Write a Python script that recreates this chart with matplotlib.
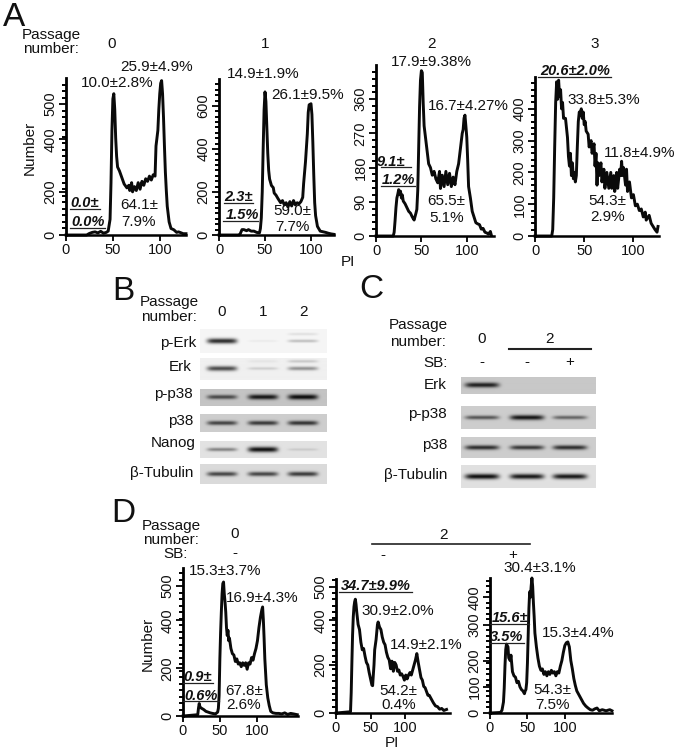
#!/usr/bin/env python
# coding: utf-8
"""Cell cycle histograms and western blots, four panels"""

import numpy as np
import matplotlib
matplotlib.use("Agg")
import matplotlib.pyplot as plt
from matplotlib.lines import Line2D

plt.rcParams['font.family'] = ['Liberation Sans', 'DejaVu Sans']

W, H = 678, 751

# histogram data, PI on x and number on y
a0_x = [0, 22, 25, 28, 31, 34, 37, 40, 43, 45, 47, 48, 49, 50, 51, 52, 53, 54, 55, 57, 60, 62, 65, 67, 68, 70, 71, 73, 75, 77, 79, 81, 83, 85, 87, 89, 91, 93, 95, 96, 98, 99, 100, 101, 102, 103, 104, 105, 106, 107, 108, 110, 112, 115, 118, 120, 123, 125, 128]
a0_y = [0, 0, 6, 10, 12, 8, 14, 7, 10, 15, 60, 200, 400, 520, 540, 480, 370, 300, 260, 245, 215, 195, 180, 190, 170, 200, 165, 185, 170, 200, 175, 205, 190, 215, 205, 225, 210, 230, 225, 340, 400, 480, 540, 580, 590, 540, 450, 340, 240, 170, 110, 50, 25, 20, 10, 12, 8, 5, 5]
a1_x = [0, 22, 23, 25, 27, 30, 32, 35, 38, 41, 44, 45, 46, 47, 48, 49, 50, 51, 52, 53, 54, 55, 57, 59, 60, 62, 64, 67, 69, 71, 73, 75, 77, 79, 81, 83, 85, 87, 89, 91, 92, 94, 96, 97, 98, 100, 101, 102, 103, 104, 105, 107, 110, 113, 116, 119, 122, 125]
a1_y = [0, 0, 5, 25, 25, 20, 25, 18, 18, 12, 10, 30, 80, 200, 400, 580, 665, 620, 500, 380, 300, 260, 230, 220, 195, 185, 170, 150, 160, 140, 150, 130, 155, 135, 160, 140, 150, 145, 155, 175, 240, 340, 470, 570, 605, 610, 560, 430, 280, 150, 90, 40, 18, 15, 12, 8, 5, 3]
a2_x = [0, 19, 20, 21, 22, 23, 24, 25, 26, 27, 28, 29, 30, 32, 34, 36, 38, 40, 42, 44, 45, 46, 47, 48, 49, 50, 51, 52, 53, 55, 57, 58, 60, 62, 64, 66, 68, 70, 71, 73, 75, 77, 79, 81, 83, 85, 87, 89, 91, 93, 95, 96, 97, 98, 99, 100, 101, 102, 104, 106, 108, 110, 112, 114, 116, 118, 120, 122, 124, 126, 127]
a2_y = [0, 0, 10, 40, 75, 100, 110, 122, 110, 118, 100, 108, 92, 85, 75, 65, 60, 50, 42, 60, 70, 120, 230, 340, 410, 435, 430, 350, 290, 250, 210, 190, 180, 160, 170, 150, 140, 170, 125, 160, 130, 170, 135, 165, 130, 155, 135, 170, 190, 230, 270, 280, 310, 318, 290, 260, 200, 130, 100, 65, 50, 35, 32, 30, 18, 20, 10, 8, 5, 12, 3]
a3_x = [0, 17, 18, 19, 20, 21, 22, 23, 24, 25, 26, 27, 28, 29, 31, 32, 33, 34, 35, 36, 37, 38, 39, 40, 41, 42, 43, 44, 45, 46, 47, 48, 49, 50, 51, 52, 54, 55, 57, 58, 60, 61, 62, 63, 64, 65, 67, 68, 70, 71, 73, 75, 77, 78, 80, 81, 83, 84, 86, 87, 88, 89, 90, 92, 93, 94, 96, 98, 100, 102, 104, 106, 108, 110, 112, 113, 116, 118, 120, 122, 124, 125]
a3_y = [0, 0, 20, 120, 280, 420, 485, 430, 490, 440, 460, 400, 420, 370, 370, 340, 310, 250, 220, 260, 190, 230, 180, 200, 170, 190, 280, 360, 390, 380, 400, 370, 390, 350, 360, 330, 320, 280, 300, 260, 290, 220, 260, 160, 230, 190, 230, 170, 210, 150, 200, 150, 200, 150, 190, 140, 200, 150, 210, 190, 235, 190, 215, 160, 210, 140, 170, 120, 130, 95, 100, 80, 85, 60, 75, 50, 65, 40, 30, 20, 12, 30]
d0_x = [0, 20, 21, 22, 23, 25, 28, 31, 34, 37, 40, 44, 47, 48, 49, 50, 51, 52, 53, 54, 55, 56, 57, 58, 59, 60, 61, 62, 63, 65, 67, 69, 71, 73, 75, 77, 79, 81, 83, 85, 87, 89, 91, 93, 95, 97, 99, 101, 103, 105, 107, 108, 109, 110, 111, 112, 113, 115, 117, 119, 122, 126, 130, 134, 138, 142, 146, 150, 155]
d0_y = [0, 5, 30, 48, 35, 30, 25, 18, 15, 12, 10, 8, 15, 30, 80, 220, 320, 400, 470, 510, 516, 470, 440, 400, 340, 310, 330, 290, 300, 260, 240, 235, 210, 220, 200, 205, 190, 205, 195, 205, 180, 205, 200, 225, 215, 240, 260, 290, 340, 380, 410, 420, 370, 300, 220, 170, 120, 70, 40, 18, 12, 10, 10, 8, 12, 6, 10, 8, 5]
d1_x = [0, 21, 22, 23, 24, 25, 26, 27, 28, 29, 30, 32, 34, 36, 38, 40, 42, 44, 46, 48, 50, 52, 53, 54, 55, 56, 58, 60, 61, 63, 65, 67, 69, 71, 73, 75, 77, 79, 81, 83, 85, 87, 89, 91, 93, 95, 97, 99, 101, 103, 105, 107, 109, 111, 113, 115, 117, 119, 121, 123, 125, 127, 129, 131, 133, 135, 137, 139, 141, 144, 147, 150, 153, 156, 160]
d1_y = [0, 5, 80, 200, 310, 380, 420, 440, 450, 430, 400, 350, 330, 280, 250, 255, 225, 200, 190, 160, 135, 110, 108, 150, 190, 250, 290, 350, 360, 340, 330, 300, 280, 270, 240, 220, 210, 175, 205, 165, 200, 190, 165, 170, 150, 155, 145, 130, 150, 135, 150, 160, 150, 170, 190, 210, 235, 200, 170, 140, 130, 105, 100, 85, 70, 70, 60, 50, 40, 28, 25, 15, 18, 10, 14]
d2_x = [0, 14, 16, 18, 19, 20, 21, 22, 24, 25, 27, 28, 30, 32, 34, 36, 38, 40, 42, 44, 46, 47, 48, 49, 50, 51, 52, 53, 54, 55, 56, 57, 58, 59, 60, 62, 64, 66, 68, 70, 72, 74, 76, 78, 80, 82, 84, 86, 88, 90, 92, 94, 96, 98, 100, 102, 104, 106, 108, 110, 112, 114, 116, 118, 120, 122, 125, 128, 131, 134, 137, 140, 143, 146, 150, 155, 160, 163]
d2_y = [0, 2, 10, 40, 90, 170, 230, 250, 240, 200, 190, 210, 150, 135, 130, 110, 115, 95, 85, 80, 70, 80, 85, 110, 180, 280, 380, 440, 420, 460, 490, 460, 400, 350, 290, 240, 200, 170, 155, 160, 140, 150, 135, 150, 140, 155, 145, 150, 135, 150, 145, 170, 190, 220, 245, 255, 258, 240, 190, 160, 125, 100, 80, 70, 60, 50, 35, 25, 18, 12, 10, 15, 18, 8, 12, 8, 12, 8]

# blot band darkness per lane, 0 to 255
b_names = ["p-Erk", "Erk", "p-p38", "p38", "Nanog", "β-Tubulin"]
b_bg = [246, 240, 196, 205, 226, 218]
b_main = [[200, 12, 55], [165, 35, 95], [125, 175, 185], [140, 150, 155], [95, 210, 25], [150, 150, 160]]
b_upper = [[0, 0, 22], [0, 12, 40], [0, 0, 0], [0, 0, 0], [0, 0, 0], [0, 0, 0]]
c_names = ["Erk", "p-p38", "p38", "β-Tubulin"]
c_bg = [200, 205, 205, 225]
c_main = [[170, 0, 0], [120, 185, 105], [160, 150, 160], [210, 200, 200]]

fig = plt.figure(figsize=(W / 100, H / 100), dpi=100)


def txt(x, y, s, size=11, ha='center', **kw):
    fig.text(x / W, 1 - y / H, s, fontsize=size, ha=ha, va='center', color='#111111', **kw)


def rule(x0, x1, y, lw=0.9):
    fig.add_artist(Line2D([x0 / W, x1 / W], [1 - y / H, 1 - y / H], color='#222222', lw=lw))


def gate(x, y, s, x0, x1, uy):
    txt(x, y, s, size=10.5, weight='bold', style='italic')
    rule(x0, x1, uy)


def hist(x0, x1, y0, y1, xmax, ymax, xs, ys, yticks, ylabels, yminor):
    """Histogram axes placed by pixel box, y0 is the bottom"""
    ax = fig.add_axes([x0 / W, 1 - y0 / H, (x1 - x0) / W, (y0 - y1) / H])
    ax.plot(xs, ys, color='#0a0a0a', lw=2.1, solid_joinstyle='round', clip_on=False)
    ax.set_xlim(0, xmax)
    ax.set_ylim(0, ymax)
    for side in ['top', 'right']:
        ax.spines[side].set_visible(False)
    ax.spines['left'].set_linewidth(2.0)
    ax.spines['bottom'].set_linewidth(1.8)
    ax.set_xticks([0, 50, 100])
    ax.set_yticks(yticks, ylabels)
    ax.set_yticks(yminor, minor=True)
    ax.tick_params(axis='x', length=4, width=1.4, labelsize=10.5, pad=1.5, colors='#111111')
    ax.tick_params(axis='y', length=5, width=1.4, labelsize=10.5, pad=1, colors='#111111')
    ax.tick_params(axis='y', which='minor', length=3, width=1.4)
    for lab in ax.get_yticklabels():
        lab.set_rotation(90)
        lab.set_va('center')
    ax.patch.set_alpha(0)
    return ax


def blot(x0, x1, y0, y1, bg, main, upper, lanes, half):
    """One blot strip, bands built from the darkness values of its lanes"""
    ax = fig.add_axes([x0 / W, 1 - y1 / H, (x1 - x0) / W, (y1 - y0) / H])
    nx, ny = 3 * (x1 - x0), 3 * (y1 - y0)
    xx, yy = np.meshgrid(np.linspace(x0, x1, nx), np.linspace(y0, y1, ny))
    img = np.full((ny, nx), float(bg))
    mid = 0.5 * (y0 + y1)
    for lane, dark, up in zip(lanes, main, upper):
        shape = np.exp(-((xx - lane) / half) ** 6)
        img -= dark * shape * np.exp(-((yy - mid) / (1.1 + dark / 130)) ** 2)
        img -= up * shape * np.exp(-((yy - mid + 7) / 1.4) ** 2)
    ax.imshow(np.clip(img, 0, 255), cmap='gray', vmin=0, vmax=255, aspect='auto',
              interpolation='bilinear')
    ax.axis('off')


# Panel A
txt(14, 17, "A", size=24)
txt(51, 35, "Passage")
txt(51, 49, "number:")
for x, s in zip([112, 265, 432, 595], ["0", "1", "2", "3"]):
    txt(x, 44, s)

hist(66, 186, 235, 78, 128, 600, a0_x, a0_y, [0, 164, 366, 500], ["0", "200", "400", "500"], np.arange(0, 600, 25))
hist(219, 334, 235, 79, 125, 725, a1_x, a1_y, [0, 200, 400, 600], ["0", "200", "400", "600"], np.arange(0, 725, 25))
hist(376, 494, 236, 65, 130, 450, a2_x, a2_y, [0, 90, 180, 270, 360], ["0", "90", "180", "270", "360"], np.arange(0, 450, 18))
hist(535, 659, 236, 77, 126, 500, a3_x, a3_y, [0, 100, 200, 300, 400], ["0", "100", "200", "300", "400"], np.arange(0, 500, 20))

txt(30, 148, "Number", rotation=90)
txt(348, 262, "PI")

txt(157, 67, "25.9±4.9%")
txt(117, 83, "10.0±2.8%")
txt(263, 74, "14.9±1.9%")
txt(308, 95, "26.1±9.5%")
txt(139, 205, "64.1±")
txt(139, 222, "7.9%")
txt(292, 211, "59.0±")
txt(292, 227, "7.7%")
gate(85, 203, "0.0±", 70, 100, 209)
gate(88, 222, "0.0%", 70, 105, 228)
gate(238, 197, "2.3±", 224, 253, 203)
gate(242, 215, "1.5%", 223, 258, 221)

txt(431, 62, "17.9±9.38%")
txt(468, 106, "16.7±4.27%")
txt(446, 201, "65.5±")
txt(447, 218, "5.1%")
gate(391, 162, "9.1±", 381, 411, 167)
gate(398, 180, "1.2%", 381, 415, 186)

gate(575, 71, "20.6±2.0%", 538, 611, 77)
txt(604, 100, "33.8±5.3%")
txt(640, 153, "11.8±4.9%")
txt(607, 201, "54.3±")
txt(608, 217, "2.9%")

# Panel B
txt(123, 291, "B", size=24)
txt(169, 302, "Passage")
txt(169, 317, "number:")
b_lanes = [222, 263, 303]
for x, s in zip(b_lanes, ["0", "1", "2"]):
    txt(x, 312, s)
b_rows = [(329, 353), (358, 380), (389, 406), (414, 432), (441, 458), (464, 484)]
for row, bg, main, upper in zip(b_rows, b_bg, b_main, b_upper):
    blot(200, 327, row[0], row[1], bg, main, upper, b_lanes, 15)
for y, x, s in zip([343, 367, 394, 421, 443, 473], [196, 192, 193, 193, 196, 193], b_names):
    txt(x, y, s, ha='right')

# Panel C
txt(371, 290, "C", size=24)
txt(418, 325, "Passage")
txt(418, 342, "number:")
c_lanes = [482, 527, 570]
txt(482, 339, "0")
txt(550, 339, "2")
rule(509, 591, 349, lw=1.5)
txt(448, 363, "SB:", ha='right')
for x, s in zip(c_lanes, ["-", "-", "+"]):
    txt(x, 362, s)
c_rows = [(377, 394), (406, 429), (437, 458), (465, 488)]
for row, bg, main in zip(c_rows, c_bg, c_main):
    blot(461, 596, row[0], row[1], bg, main, [0, 0, 0], c_lanes, 17)
for y, s in zip([385, 414, 445, 475], c_names):
    txt(447, y, s, ha='right')

# Panel D
txt(123, 513, "D", size=24)
txt(171, 526, "Passage")
txt(171, 540, "number:")
txt(176, 554, "SB:")
txt(235, 534, "0")
txt(235, 553, "-")
txt(443, 535, "2")
rule(372, 530, 544, lw=1.2)
txt(383, 555, "-")
txt(513, 555, "+")

hist(183, 298, 716, 568, 156, 570, d0_x, d0_y, [0, 184, 369, 500], ["0", "200", "400", "500"], np.arange(0, 570, 25))
hist(336, 450, 713, 579, 165, 530, d1_x, d1_y, [0, 190, 367, 500], ["0", "200", "400", "500"], np.arange(0, 530, 25))
hist(490, 612, 713, 578, 163, 490, d2_x, d2_y, [0, 95, 190, 320, 420], ["0", "100", "200", "300", "400"], np.arange(0, 490, 20))

txt(148, 644, "Number", rotation=90)
txt(392, 743, "PI")

txt(225, 571, "15.3±3.7%")
txt(262, 598, "16.9±4.3%")
txt(244, 691, "67.8±")
txt(244, 705, "2.6%")
gate(198, 677, "0.9±", 183, 213, 683)
gate(201, 696, "0.6%", 183, 219, 701)

gate(376, 586, "34.7±9.9%", 339, 412, 592)
txt(398, 611, "30.9±2.0%")
txt(426, 645, "14.9±2.1%")
txt(398, 691, "54.2±")
txt(399, 705, "0.4%")

txt(540, 568, "30.4±3.1%")
txt(578, 633, "15.3±4.4%")
txt(552, 690, "54.3±")
txt(553, 705, "7.5%")
gate(510, 618, "15.6±", 490, 529, 624)
gate(507, 637, "3.5%", 490, 524, 643)

fig.savefig("out.png", dpi=100)
